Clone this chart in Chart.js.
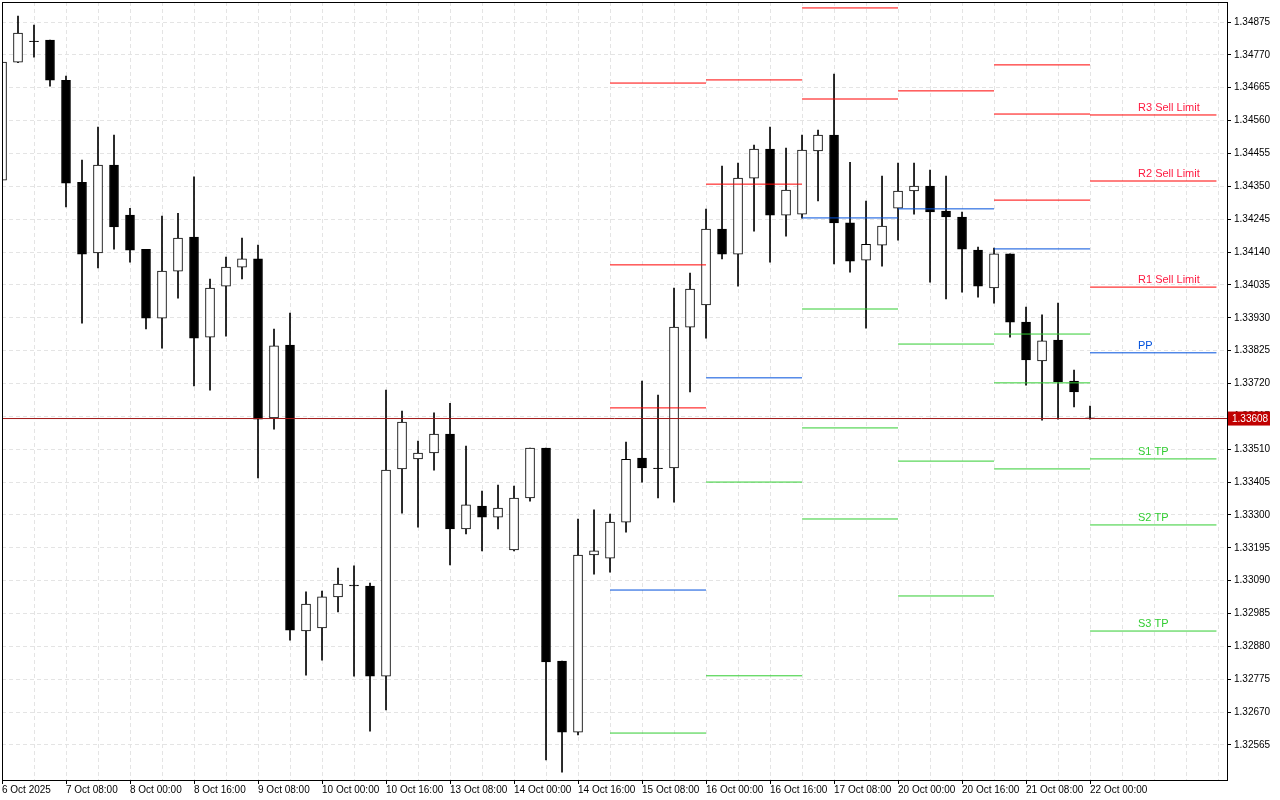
<!DOCTYPE html>
<html><head><meta charset="utf-8">
<script src="https://cdn.jsdelivr.net/npm/chart.js@4/dist/chart.umd.min.js"></script>
<style>html,body{margin:0;padding:0;background:#fff;}canvas{display:block;}</style>
</head><body>
<canvas id="c" width="1280" height="800"></canvas>
<script>
// OHLC in points (1e-5)
const opens  = [134370,134747,134814,134817,134689,134363,134137,134418,134258,134149,133929,134079,134188,133868,134031,134092,134118,133610,133843,132929,132939,133038,133076,133073,132785,133447,133479,133498,133558,133255,133328,133293,133188,133354,133514,132833,132606,133172,133162,133277,133482,133450,133450,133900,133971,134213,134133,134376,134469,134258,134261,134463,134514,134233,134114,134162,134280,134335,134351,134271,134252,134146,134025,134134,133916,133792,133859,133728,133610];
const closes = [134747,134840,134812,134689,134360,134133,134418,134220,134146,133929,134079,134185,133865,134025,134092,134118,133606,133840,132932,133015,133038,133079,133073,132785,133443,133597,133498,133558,133255,133332,133293,133322,133354,133514,132830,132606,133172,133185,133277,133478,133450,133448,133900,134022,134213,134133,134376,134469,134258,134338,134466,134514,134233,134111,134165,134223,134335,134351,134268,134252,134149,134031,134134,133916,133795,133856,133725,133693,133608];
const highs  = [134753,134894,134865,134817,134702,134434,134539,134514,134280,134149,134255,134264,134380,134054,134124,134185,134162,133894,133945,133054,133057,133130,133137,133082,133699,133632,133536,133626,133657,133520,133376,133395,133392,133514,133514,132833,133287,133316,133303,133533,133728,133683,134025,134073,134277,134415,134424,134482,134539,134472,134514,134530,134709,134427,134303,134383,134424,134424,134402,134383,134268,134156,134153,134134,133964,133939,133977,133763,133648];
const lows   = [134363,134745,134763,134670,134284,133913,134089,134149,134108,133894,133833,133993,133712,133699,133871,134054,133418,133574,132900,132788,132836,132990,132785,132609,132677,133306,133261,133443,133140,133239,133185,133255,133185,133344,132517,132478,132597,133111,133117,133245,133405,133354,133341,133693,133865,134118,134031,134207,134108,134191,134248,134303,134102,134076,133897,134095,134178,134261,134044,133990,134012,133996,133977,133868,133715,133603,133606,133645,133606];

const xLabels = ["6 Oct 2025","7 Oct 08:00","8 Oct 00:00","8 Oct 16:00","9 Oct 08:00","10 Oct 00:00","10 Oct 16:00","13 Oct 08:00","14 Oct 00:00","14 Oct 16:00","15 Oct 08:00","16 Oct 00:00","16 Oct 16:00","17 Oct 08:00","20 Oct 00:00","20 Oct 16:00","21 Oct 08:00","22 Oct 00:00"];
const yTicks = ["1.34875","1.34770","1.34665","1.34560","1.34455","1.34350","1.34245","1.34140","1.34035","1.33930","1.33825","1.33720","1.33615","1.33510","1.33405","1.33300","1.33195","1.33090","1.32985","1.32880","1.32775","1.32670","1.32565"];

// pivot levels per day
const dayStart = [38,44,50,56,62,68];
const dayEnd   = [44,50,56,62,68,75.9];
const R3 = [1.34680,null,null,null,1.34738,1.34578];
const R2 = [1.34099,1.34690,1.34920,null,1.34581,1.34367];
const R1 = [1.33642,1.34357,1.34629,1.34655,1.34306,1.34028];
const PP = [1.33060,1.33738,1.34249,1.34278,1.34150,1.33818];
const S1 = [1.32603,1.33405,1.33958,1.33846,1.33878,1.33479];
const S2 = [null,1.32786,1.33578,1.33472,1.33722,1.33268];
const S3 = [null,null,1.33287,1.33041,1.33447,1.32929];
const levelNames = ["R3 Sell Limit","R2 Sell Limit","R1 Sell Limit","PP","S1 TP","S2 TP","S3 TP"];
const currentPrice = 1.33608;

const P = v => v/100000;
const RED='#ff0000', BLUE='#0050dc', GREEN='#32cd32';
const levelSets = [[R3,RED],[R2,RED],[R1,RED],[PP,BLUE],[S1,GREEN],[S2,GREEN],[S3,GREEN]];

const wickData = highs.map((h,i)=>({x:i,y:[P(lows[i]),P(h)]}));
const bodyData = opens.map((o,i)=>({x:i,y:[P(o),P(closes[i])]}));
const bodyFill = opens.map((o,i)=> closes[i]>=o ? '#ffffff' : '#000000');

const datasets = [
  {type:'bar',data:wickData,backgroundColor:'#000',borderWidth:0,barThickness:1,grouped:false,order:5},
  {type:'bar',data:bodyData,backgroundColor:bodyFill,borderColor:'#000',borderWidth:1,borderSkipped:false,barThickness:9,grouped:false,order:4},
];
levelSets.forEach(([arr,col])=>{
  arr.forEach((v,d)=>{
    if(v===null) return;
    datasets.push({type:'line',data:[{x:dayStart[d],y:v},{x:dayEnd[d],y:v}],borderColor:col,borderWidth:1,pointRadius:0,order:2});
  });
});
datasets.push({type:'line',data:[{x:-1,y:currentPrice},{x:80,y:currentPrice}],borderColor:'#a01818',borderWidth:1,pointRadius:0,order:1});

const overlay = {
  id:'overlay',
  afterDraw(chart){
    const ctx=chart.ctx, xs=chart.scales.x, ys=chart.scales.y;
    ctx.save();
    ctx.font='11px "Liberation Sans", Arial';
    ctx.textBaseline='alphabetic';
    levelSets.forEach(([arr,col],k)=>{
      const v=arr[5]; if(v===null) return;
      ctx.fillStyle = col===RED?'#ff1a40':col;
      ctx.fillText(levelNames[k], xs.getPixelForValue(71.0), ys.getPixelForValue(v)-4);
    });
    const py=ys.getPixelForValue(currentPrice);
    ctx.fillStyle='#c00000';
    ctx.fillRect(chart.chartArea.right+1,py-7,42,14);
    ctx.fillStyle='#fff';
    ctx.font='10px "Liberation Sans", Arial';
    ctx.textBaseline='middle';
    ctx.fillText(currentPrice.toFixed(5),chart.chartArea.right+5,py+0.5);
    ctx.strokeStyle='#000';ctx.lineWidth=1;
    const a=chart.chartArea;
    ctx.strokeRect(a.left+0.5,a.top+0.5,a.right-a.left,a.bottom-a.top);
    ctx.restore();
  }
};

new Chart(document.getElementById('c'),{
  data:{datasets},
  plugins:[overlay],
  options:{
    responsive:false,animation:false,
    layout:{padding:{left:2,top:2,right:0,bottom:2}},
    plugins:{legend:{display:false},tooltip:{enabled:false}},
    scales:{
      x:{type:'linear',min:0,max:76.56,offset:false,
        afterBuildTicks(s){const t=[];for(let i=0;i<=76;i+=2)t.push({value:i});s.ticks=t;},
        afterFit(s){s.height=18;s.paddingLeft=0;s.paddingRight=0;},
        ticks:{autoSkip:false,maxRotation:0,align:'start',padding:0,color:'#000',font:{size:10,family:'"Liberation Sans", Arial'},
          callback(v){return v%4===0 ? (xLabels[v/4]||'') : '';}},
        grid:{color:'#e4e4e4',tickLength:4,offset:false,
          tickColor:c=>(c.tick && c.tick.value%4===0 && c.tick.value<=68)?'#000':'rgba(0,0,0,0)'},
        border:{display:true,color:'#000',dash:[4,3]}
      },
      y:{type:'linear',position:'right',min:1.32453,max:1.34939,
        afterBuildTicks(s){s.ticks=yTicks.map(t=>({value:parseFloat(t)}));},
        afterFit(s){s.width=53;s.paddingTop=0;s.paddingBottom=0;},
        ticks:{autoSkip:false,padding:3,color:'#000',font:{size:10,family:'"Liberation Sans", Arial'},
          callback(v,i){return yTicks[i];}},
        grid:{color:'#e4e4e4',tickColor:'#000',tickLength:4},
        border:{display:true,color:'#000',dash:[4,3]}
      }
    }
  }
});
</script>
</body></html>
